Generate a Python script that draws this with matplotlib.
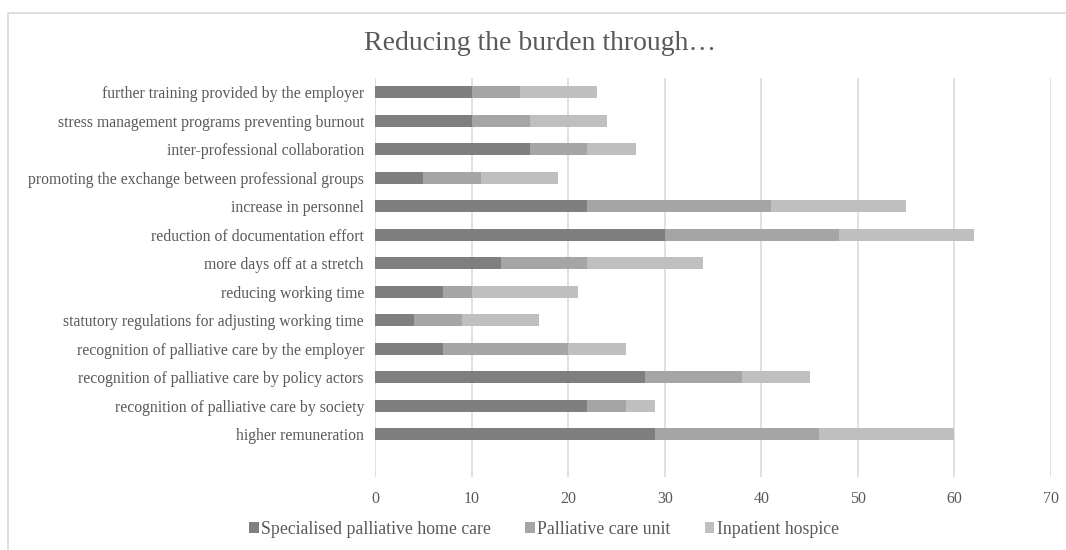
import matplotlib.pyplot as plt
from matplotlib.patches import Rectangle
import numpy as np

# Measures, listed bottom to top
measures = [
    "higher remuneration",
    "recognition of palliative care by society",
    "recognition of palliative care by policy actors",
    "recognition of palliative care by the employer",
    "statutory regulations for adjusting working time",
    "reducing working time",
    "more days off at a stretch",
    "reduction of documentation effort",
    "increase in personnel",
    "promoting the exchange between professional groups",
    "inter-professional collaboration",
    "stress management programs preventing burnout",
    "further training provided by the employer",
]
home_care = [29, 22, 28, 7, 4, 7, 13, 30, 22, 5, 16, 10, 10]
care_unit = [17, 4, 10, 13, 5, 3, 9, 18, 19, 6, 6, 6, 5]
hospice = [14, 3, 7, 6, 8, 11, 12, 14, 14, 8, 5, 8, 8]

series_names = ["Specialised palliative home care", "Palliative care unit", "Inpatient hospice"]
colors = ["#7f7f7f", "#a5a5a5", "#bfbfbf"]
text_color = "#595959"

plt.rcParams['font.family'] = ['Liberation Serif', 'DejaVu Serif']

fig = plt.figure(figsize=(10.66, 5.5), dpi=100)
ax = fig.add_axes([375 / 1066, 1 - 477 / 550, 676 / 1066, 399 / 550])

# chart area border (right and bottom edges run off the canvas)
fig.patches.append(Rectangle((8 / 1066, -0.2), 1.2, 1.2 - 13 / 550, transform=fig.transFigure,
                             fill=False, edgecolor="#d9d9d9", linewidth=1.2))

y = np.arange(len(measures))
left = np.zeros(len(measures))
for vals, name, c in zip([home_care, care_unit, hospice], series_names, colors):
    ax.barh(y, vals, left=left, height=0.42, color=c, label=name, zorder=3)
    left += np.array(vals)

ax.set_xlim(0, 70)
ax.set_ylim(-1.5, 12.5)
ax.set_xticks(range(0, 71, 10))
ax.set_yticks(y)
ax.set_yticklabels(measures, fontsize=11.3, color=text_color)
ax.tick_params(axis='x', labelsize=11.5, labelcolor=text_color, length=0, pad=10)
ax.tick_params(axis='y', length=0, pad=8)
ax.grid(axis='x', color="#d9d9d9", linewidth=1.1, zorder=0)
for s in ax.spines.values():
    s.set_visible(False)

fig.text(540 / 1066, 1 - 44 / 550, "Reducing the burden through…", ha='center', va='center',
         fontsize=20, color=text_color)

fig.legend(loc='center', bbox_to_anchor=(544 / 1066, 1 - 529 / 550), ncol=3, frameon=False,
           fontsize=12.8, labelcolor=text_color, handlelength=0.55, handleheight=0.55,
           handletextpad=0.15, columnspacing=1.9)

fig.savefig("out.png", dpi=100)
